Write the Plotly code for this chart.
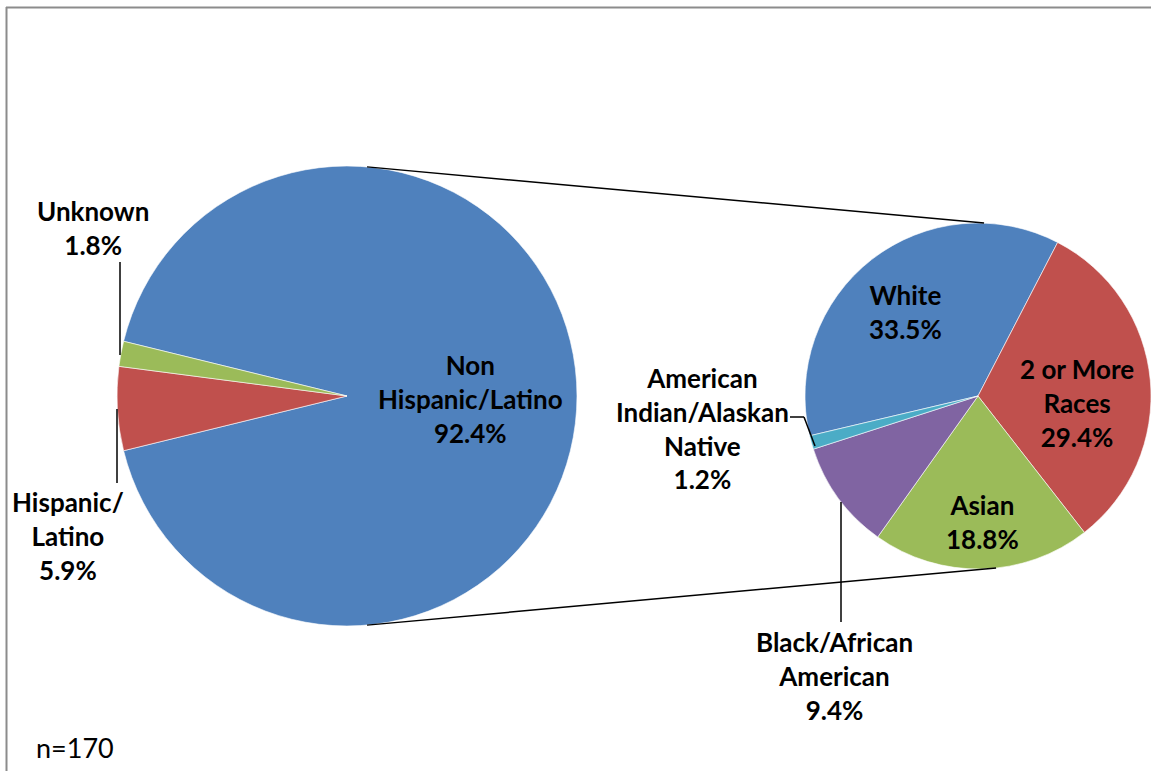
import math
import plotly.graph_objects as go

# Ethnicity breakdown (counts out of n=170)
eth_labels = ["Non Hispanic/Latino", "Hispanic/Latino", "Unknown"]
eth_counts = [157, 10, 3]
eth_colors = ["#4F81BD", "#C0504D", "#9BBB59"]

# Race breakdown of the Non Hispanic/Latino group (counts)
race_labels = ["White", "2 or More Races", "Asian", "Black/African American",
               "American Indian/Alaskan Native"]
race_counts = [57, 50, 32, 16, 2]
race_colors = ["#4F81BD", "#C0504D", "#9BBB59", "#8064A2", "#4BACC6"]

N_TOTAL = sum(eth_counts)
sample_note = "n=170"

W, H = 1151, 771
FONT = "Lato"
LBL_SIZE = 26


def px(x, y):
    """Pixel position (from top-left) -> paper coordinates."""
    return x / W, 1 - y / H


def pct(v):
    return f"{100 * v / N_TOTAL:.1f}%"


# Pie geometry in pixels
L_CX, L_CY, L_R = 347, 396, 230
R_CX, R_CY, R_R = 978, 396, 173

fig = go.Figure()

# Left pie: the big slice faces the secondary pie (centred on 3 o'clock)
big_frac = eth_counts[0] / N_TOTAL
fig.add_trace(go.Pie(
    labels=eth_labels, values=eth_counts, sort=False, direction="clockwise",
    rotation=90 - 180 * big_frac,
    marker=dict(colors=eth_colors, line=dict(color="white", width=0.6)),
    textinfo="none", hoverinfo="label+percent", showlegend=False,
    domain=dict(x=[(L_CX - L_R) / W, (L_CX + L_R) / W],
                y=[1 - (L_CY + L_R) / H, 1 - (L_CY - L_R) / H]),
))

# Right pie: race split of the big slice
fig.add_trace(go.Pie(
    labels=race_labels, values=race_counts, sort=False, direction="clockwise",
    rotation=-103.3,
    marker=dict(colors=race_colors, line=dict(color="white", width=0.6)),
    textinfo="none", hoverinfo="label+value", showlegend=False,
    domain=dict(x=[(R_CX - R_R) / W, min(1.0, (R_CX + R_R) / W)],
                y=[1 - (R_CY + R_R) / H, 1 - (R_CY - R_R) / H]),
))

shapes = []


def seg(x0, y0, x1, y1, color="black", width=1.5):
    a = px(x0, y0)
    b = px(x1, y1)
    shapes.append(dict(type="line", xref="paper", yref="paper",
                       x0=a[0], y0=a[1], x1=b[0], y1=b[1],
                       line=dict(color=color, width=width)))


def on_circle(cx, cy, r, deg):
    t = math.radians(deg)
    return cx + r * math.cos(t), cy - r * math.sin(t)


# Connector lines between the two pies
lt = on_circle(L_CX, L_CY, L_R, 85)
lb = on_circle(L_CX, L_CY, L_R, -85)
rt = on_circle(R_CX, R_CY, R_R, 88)
rb = on_circle(R_CX, R_CY, R_R, -84)
seg(*lt, *rt)
seg(*lb, *rb)

# Leader lines
seg(120, 262, 120, 355)            # Unknown
seg(117, 409, 117, 483)            # Hispanic/Latino
seg(841, 502, 841, 622)            # Black/African American
seg(790, 417, 804, 417)            # American Indian/Alaskan Native
seg(804, 417, 815, 446)

# Chart frame (left and top edges)
seg(6.5, 7, 6.5, H + 5, color="#8C8C8C", width=2)
seg(6, 7.5, W + 5, 7.5, color="#8C8C8C", width=2)

annotations = []


def label(text, x, y, size=LBL_SIZE, bold=True, xanchor="center"):
    p = px(x, y)
    annotations.append(dict(
        text=f"<b>{text}</b>" if bold else text,
        x=p[0], y=p[1], xref="paper", yref="paper",
        xanchor=xanchor, yanchor="middle", showarrow=False, align="center",
        font=dict(family=FONT, size=size, color="black"),
    ))


label(f"Non<br>Hispanic/Latino<br>{pct(eth_counts[0])}", 470, 399)
label(f"Hispanic/<br>Latino<br>{pct(eth_counts[1])}", 68, 536)
label(f"Unknown<br>{pct(eth_counts[2])}", 93, 228)
label(f"White<br>{pct(race_counts[0])}", 905, 312)
label(f"2 or More<br>Races<br>{pct(race_counts[1])}", 1077, 403)
label(f"Asian<br>{pct(race_counts[2])}", 983, 522)
label(f"Black/African<br>American<br>{pct(race_counts[3])}", 834, 676)
label(f"American<br>Indian/Alaskan<br>Native<br>{pct(race_counts[4])}", 702, 428)
label(sample_note, 34, 747, size=27, bold=False, xanchor="left")

fig.update_layout(
    width=W, height=H, margin=dict(l=0, r=0, t=0, b=0),
    paper_bgcolor="white", plot_bgcolor="white",
    shapes=shapes, annotations=annotations,
)

fig.write_html("out.html")
